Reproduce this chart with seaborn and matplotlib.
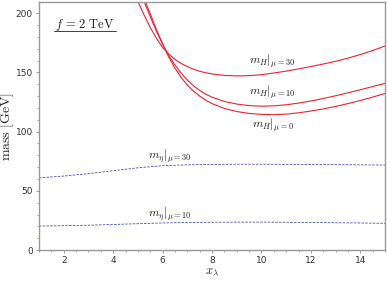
import matplotlib
matplotlib.use("Agg")
import matplotlib.pyplot as plt
import seaborn as sns
import pandas as pd
from matplotlib.ticker import MultipleLocator

# Data
x_h30 = [4.8, 5.0, 5.25, 5.5, 5.75, 6.0, 6.25, 6.5, 6.75, 7.0, 7.25, 7.5, 7.75, 8.0, 8.5, 9.0, 9.5, 10.0, 10.5, 11.0, 11.5, 12.0, 12.5, 13.0, 13.5, 14.0, 14.5, 15.0]
m_h30 = [221, 210, 198.5, 188, 178.8, 171.0, 165.6, 161.0, 157.6, 154.9, 152.7, 151.0, 149.7, 148.7, 147.5, 147.1, 147.3, 148.1, 149.5, 151.1, 153.0, 155.0, 157.1, 159.4, 162.1, 165.1, 168.5, 172.3]
x_h10 = [5.0, 5.25, 5.5, 5.75, 6.0, 6.25, 6.5, 6.75, 7.0, 7.25, 7.5, 7.75, 8.0, 8.5, 9.0, 9.5, 10.0, 10.5, 11.0, 11.5, 12.0, 12.5, 13.0, 13.5, 14.0, 14.5, 15.0]
m_h10 = [222, 210, 197, 184.8, 173.8, 164.3, 156.3, 149.4, 143.6, 138.7, 134.8, 131.6, 129.1, 125.5, 123.3, 122.0, 121.5, 121.8, 122.7, 124.1, 125.9, 128.0, 130.3, 132.8, 135.4, 138.1, 140.8]
x_h0 = [5.0, 5.3, 5.5, 5.75, 6.0, 6.25, 6.5, 6.75, 7.0, 7.25, 7.5, 7.75, 8.0, 8.5, 9.0, 9.5, 10.0, 10.5, 11.0, 11.5, 12.0, 12.5, 13.0, 13.5, 14.0, 14.5, 15.0]
m_h0 = [224, 210, 199.5, 186.2, 174.2, 163.0, 153.6, 145.8, 139.4, 134.2, 130.0, 126.5, 123.7, 119.6, 117.0, 115.4, 114.6, 114.3, 114.8, 115.9, 117.4, 119.2, 121.3, 123.7, 126.3, 129.2, 132.3]
x_eta = [1, 2, 3, 4, 5, 6, 7, 8, 9, 10, 11, 12, 13, 14, 15]
m_eta30 = [61.0, 62.5, 64.5, 67.0, 69.5, 71.3, 72.0, 72.3, 72.5, 72.5, 72.4, 72.3, 72.1, 72.0, 71.8]
m_eta10 = [20.3, 20.6, 21.0, 21.6, 22.3, 22.9, 23.3, 23.5, 23.6, 23.6, 23.5, 23.3, 23.1, 22.9, 22.6]

labels_h = [r"$m_H|_{\mu=30}$", r"$m_H|_{\mu=10}$", r"$m_H|_{\mu=0}$"]
labels_eta = [r"$m_\eta|_{\mu=30}$", r"$m_\eta|_{\mu=10}$"]
title_txt = r"$f\,=\,2\ \mathrm{TeV}$"

sns.set_style("white")
plt.rcParams["mathtext.fontset"] = "cm"
plt.rcParams["font.family"] = ["DejaVu Sans"]

fig = plt.figure(figsize=(3.87, 2.81), dpi=100)
ax = fig.add_axes([0.1008, 0.110, 0.8942, 0.883])

red = "#ee2233"
blue = "#5050b0"
for xs, ys in [(x_h30, m_h30), (x_h10, m_h10), (x_h0, m_h0)]:
    df = pd.DataFrame({"x": xs, "y": ys})
    sns.lineplot(data=df, x="x", y="y", ax=ax, color=red, lw=0.8, sort=True)
for ys in [m_eta30, m_eta10]:
    df = pd.DataFrame({"x": x_eta, "y": ys})
    sns.lineplot(data=df, x="x", y="y", ax=ax, color=blue, lw=0.6, linestyle=(0, (3, 1.5)))

ax.set_xlim(1, 15)
ax.set_ylim(0, 209.5)
ax.xaxis.set_major_locator(MultipleLocator(2))
ax.xaxis.set_minor_locator(MultipleLocator(0.5))
ax.yaxis.set_major_locator(MultipleLocator(50))
ax.yaxis.set_minor_locator(MultipleLocator(10))
ax.set_xticks([2, 4, 6, 8, 10, 12, 14])
ax.tick_params(which="major", direction="out", length=2.5, width=0.6, color="#888888",
               labelsize=6.5, labelcolor="#333333", pad=2, bottom=True, left=True)
ax.tick_params(which="minor", direction="out", length=1.5, width=0.5, color="#888888",
               bottom=True, left=True)
for s in ax.spines.values():
    s.set_color("#999999")
    s.set_linewidth(1.0)

ax.set_xlabel(r"$x_\lambda$", fontsize=9)
ax.set_ylabel(r"$\mathrm{mass\ [GeV]}$", fontsize=10)
ax.xaxis.set_label_coords(0.5, -0.062)
ax.yaxis.set_label_coords(-0.066, 0.5)

tk = dict(fontsize=8.5, color="#222222", ha="left", va="center")
ax.text(9.5, 159.5, labels_h[0], **tk)
ax.text(9.5, 133, labels_h[1], **tk)
ax.text(9.6, 105.5, labels_h[2], **tk)
ax.text(5.4, 79, labels_eta[0], **tk)
ax.text(5.4, 30, labels_eta[1], **tk)

ax.text(0.046, 0.907, title_txt, transform=ax.transAxes, fontsize=9, ha="left", va="center", color="#222222")
ax.plot([0.043, 0.222], [0.883, 0.883], transform=ax.transAxes, color="#222222", lw=0.6)

fig.savefig("out.png", dpi=100)
